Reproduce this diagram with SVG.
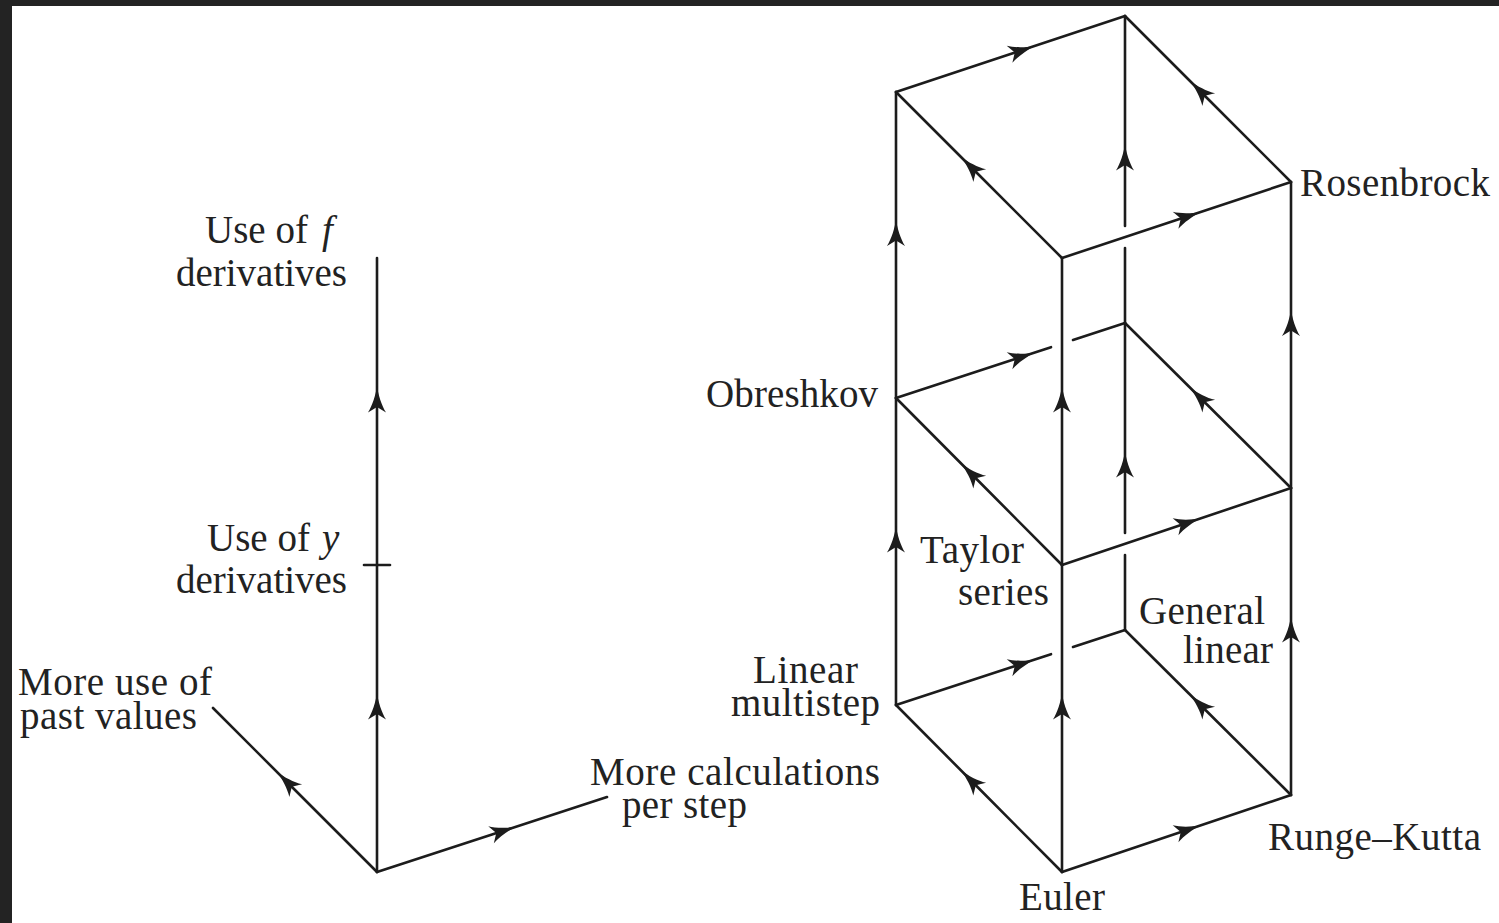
<svg xmlns="http://www.w3.org/2000/svg" width="1499" height="923" viewBox="0 0 1499 923">
<style>
.e{fill:none;stroke:#1c1c1c;stroke-width:2.6;stroke-linecap:round;stroke-linejoin:round}
.a{marker-mid:url(#ah)}
text{font-family:"Liberation Serif","Times New Roman",serif;font-size:39px;fill:#222}
.i{font-style:italic}
</style>
<defs>
<marker id="ah" markerUnits="userSpaceOnUse" markerWidth="40" markerHeight="40" refX="0" refY="0" orient="auto" overflow="visible">
<path d="M25 0 C17 1.4 6 4.5 -1 9 L4.5 0 L-1 -9 C6 -4.5 17 -1.4 25 0 Z" fill="#1c1c1c"/>
</marker>
</defs>
<rect width="1499" height="923" fill="#232323"/>
<rect x="12" y="6" width="1487" height="917" fill="#fff"/>

<g id="connectors">
<path class="e a" d="M377 872 L377 718.5 L377 565"/>
<path class="e a" d="M377 565 L377 411.5 L377 258"/>
<path class="e" d="M364 565 L390 565"/>
<path class="e a" d="M377 872 L295 790 L213 708"/>
<path class="e a" d="M377 872 L492 834.5 L607 797"/>

<path class="e a" d="M1062 872 L1176.5 833.5 L1291 795"/>
<path class="e a" d="M1062 872 L979 788.5 L896 705"/>
<path class="e a" d="M1291 795 L1208 712.5 L1125 630"/>
<path class="e a" d="M896 705 L1010.5 667.5 L1051 654.2"/>
<path class="e" d="M1073 647 L1125 630"/>

<path class="e a" d="M1062 872 L1062 718.5 L1062 565"/>
<path class="e a" d="M896 705 L896 551.5 L896 398"/>
<path class="e a" d="M1291 795 L1291 641.5 L1291 488"/>
<path class="e" d="M1125 630 L1125 555"/>
<path class="e a" d="M1125 533 L1125 476.5 L1125 323"/>

<path class="e a" d="M1062 565 L1176.5 526.5 L1291 488"/>
<path class="e a" d="M1062 565 L979 481.5 L896 398"/>
<path class="e a" d="M1291 488 L1208 405.5 L1125 323"/>
<path class="e a" d="M896 398 L1010.5 360.5 L1051 347.2"/>
<path class="e" d="M1073 340 L1125 323"/>

<path class="e a" d="M1062 565 L1062 411.5 L1062 258"/>
<path class="e a" d="M896 398 L896 245 L896 92"/>
<path class="e a" d="M1291 488 L1291 335 L1291 182"/>
<path class="e" d="M1125 323 L1125 248"/>
<path class="e a" d="M1125 226 L1125 169.5 L1125 16"/>

<path class="e a" d="M1062 258 L1176.5 220 L1291 182"/>
<path class="e a" d="M1062 258 L979 175 L896 92"/>
<path class="e a" d="M1291 182 L1208 99 L1125 16"/>
<path class="e a" d="M896 92 L1010.5 54 L1125 16"/>
</g>

<g id="label-f"><text x="205" y="243">Use of<tspan class="i" x="322">f</tspan></text><text x="176" y="286" textLength="171" lengthAdjust="spacing">derivatives</text></g>
<g id="label-y"><text x="207" y="551">Use of<tspan class="i" x="322">y</tspan></text><text x="176" y="593" textLength="171" lengthAdjust="spacing">derivatives</text></g>
<g id="label-past"><text x="18" y="695" textLength="194" lengthAdjust="spacing">More use of</text><text x="20" y="729" textLength="177" lengthAdjust="spacing">past values</text></g>
<g id="label-calc"><text x="590" y="785" textLength="290" lengthAdjust="spacing">More calculations</text><text x="622" y="818" textLength="125" lengthAdjust="spacing">per step</text></g>
<g id="node-obreshkov"><text x="706" y="407" textLength="172" lengthAdjust="spacing">Obreshkov</text></g>
<g id="node-lm"><text x="753" y="683" textLength="105" lengthAdjust="spacing">Linear</text><text x="731" y="716" textLength="149" lengthAdjust="spacing">multistep</text></g>
<g id="node-taylor"><text x="920" y="563" textLength="104" lengthAdjust="spacing">Taylor</text><text x="958" y="605" textLength="91" lengthAdjust="spacing">series</text></g>
<g id="node-gl"><text x="1139" y="624" textLength="126" lengthAdjust="spacing">General</text><text x="1183" y="663" textLength="90" lengthAdjust="spacing">linear</text></g>
<g id="node-rosenbrock"><text x="1300" y="196" textLength="190" lengthAdjust="spacing">Rosenbrock</text></g>
<g id="node-rk"><text x="1268" y="850" textLength="213" lengthAdjust="spacing">Runge–Kutta</text></g>
<g id="node-euler"><text x="1019" y="910" textLength="86" lengthAdjust="spacing">Euler</text></g>
</svg>
